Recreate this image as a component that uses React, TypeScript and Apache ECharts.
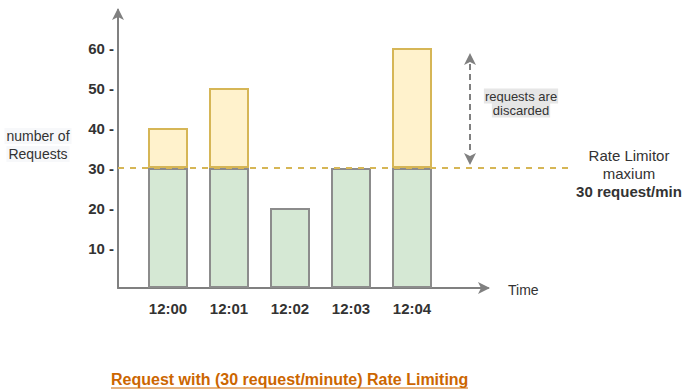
import React, { useEffect, useRef } from "react";
import * as echarts from "echarts";

const categories = ["12:00", "12:01", "12:02", "12:03", "12:04"];
const totalRequests = [40, 50, 20, 30, 60];
const LIMIT = 30;
const allowed = totalRequests.map((v) => Math.min(v, LIMIT));
const discarded = totalRequests.map((v) => (v > LIMIT ? v - LIMIT : null));

const FONT = "'Liberation Sans', Arial, sans-serif";
const GRAY = "#808080";

export default function App() {
  const ref = useRef<HTMLDivElement>(null);
  useEffect(() => {
    if (!ref.current) return;
    const chart = echarts.init(ref.current, undefined, { renderer: "svg" });
    const top = 10;
    const bottom = 101;
    const yMax = 69.5;
    chart.setOption({
      animation: false,
      textStyle: { fontFamily: FONT },
      grid: [
        { left: 118, right: 200, top, bottom },
        { left: 137.5, width: 305, top, bottom },
        { left: 118, right: 120, top, bottom },
      ],
      xAxis: [
        {
          gridIndex: 0,
          type: "value",
          min: 0,
          max: 1,
          axisLine: { show: true, lineStyle: { color: GRAY, width: 2 }, symbol: ["none", "arrow"], symbolSize: [9, 12], symbolOffset: [0, 2] },
          axisTick: { show: false },
          axisLabel: { show: false },
          splitLine: { show: false },
        },
        {
          gridIndex: 1,
          type: "category",
          data: categories,
          axisLine: { show: false },
          axisTick: { show: false },
          axisLabel: { color: "#333", fontWeight: "bold", fontSize: 15, margin: 13, fontFamily: FONT },
        },
        { gridIndex: 2, type: "value", min: 0, max: 1, show: false },
      ],
      yAxis: [
        {
          gridIndex: 0,
          type: "value",
          min: 0,
          max: yMax,
          interval: 10,
          axisLine: { show: true, lineStyle: { color: GRAY, width: 2 }, symbol: ["none", "arrow"], symbolSize: [9, 12], symbolOffset: [0, 2] },
          axisTick: { show: false },
          splitLine: { show: false },
          axisLabel: {
            showMinLabel: false,
            showMaxLabel: false,
            formatter: (v: number) => (v > 0 && v <= 60 ? `${v} -` : ""),
            color: "#333",
            fontWeight: "bold",
            fontSize: 15,
            margin: 4,
            fontFamily: FONT,
          },
        },
        { gridIndex: 1, type: "value", min: 0, max: yMax, show: false },
        { gridIndex: 2, type: "value", min: 0, max: yMax, show: false },
      ],
      series: [
        {
          type: "bar",
          xAxisIndex: 1,
          yAxisIndex: 1,
          stack: "req",
          barWidth: 40,
          data: allowed,
          itemStyle: { color: "#d5e8d4", borderColor: "#8c8c8c", borderWidth: 2 },
          z: 2,
        },
        {
          type: "bar",
          xAxisIndex: 1,
          yAxisIndex: 1,
          stack: "req",
          barWidth: 40,
          data: discarded,
          itemStyle: { color: "#fff2cc", borderColor: "#d6b656", borderWidth: 2 },
          z: 3,
        },
        {
          type: "line",
          xAxisIndex: 2,
          yAxisIndex: 2,
          data: [[0, LIMIT], [1, LIMIT]],
          symbol: "none",
          lineStyle: { color: "#d6b656", width: 2, type: [6, 6] },
          z: 5,
        },
      ],
      graphic: [
        { type: "line", shape: { x1: 470, y1: 64, x2: 470, y2: 154 }, style: { stroke: GRAY, lineWidth: 2, lineDash: [6, 4] }, z: 10 },
        { type: "polygon", shape: { points: [[470, 53], [464, 65], [470, 62], [476, 65]] }, style: { fill: GRAY }, z: 10 },
        { type: "polygon", shape: { points: [[470, 165], [464, 153], [470, 156], [476, 153]] }, style: { fill: GRAY }, z: 10 },
        { type: "text", x: 521, y: 96, style: { text: "requests are", align: "center", verticalAlign: "middle", font: `13px ${FONT}`, fill: "#333", backgroundColor: "#e6e6e6", padding: [1, 1] }, z: 10 },
        { type: "text", x: 521, y: 110, style: { text: "discarded", align: "center", verticalAlign: "middle", font: `13px ${FONT}`, fill: "#333", backgroundColor: "#e6e6e6", padding: [1, 1] }, z: 10 },
        { type: "text", x: 38, y: 136, style: { text: "number of", align: "center", verticalAlign: "middle", font: `14px ${FONT}`, fill: "#333", backgroundColor: "#f7f8fa", padding: [1, 2] }, z: 10 },
        { type: "text", x: 38, y: 154, style: { text: "Requests", align: "center", verticalAlign: "middle", font: `14px ${FONT}`, fill: "#333", backgroundColor: "#f7f8fa", padding: [1, 2] }, z: 10 },
        { type: "text", x: 508, y: 290, style: { text: "Time", align: "left", verticalAlign: "middle", font: `14px ${FONT}`, fill: "#333" }, z: 10 },
        { type: "text", x: 629, y: 155, style: { text: "Rate Limitor", align: "center", verticalAlign: "middle", font: `15px ${FONT}`, fill: "#333" }, z: 10 },
        { type: "text", x: 629, y: 173, style: { text: "maxium", align: "center", verticalAlign: "middle", font: `15px ${FONT}`, fill: "#333" }, z: 10 },
        { type: "text", x: 629, y: 191, style: { text: "30 request/min", align: "center", verticalAlign: "middle", font: `bold 15px ${FONT}`, fill: "#333" }, z: 10 },
        { type: "text", x: 111, y: 379, style: { text: "Request with (30 request/minute) Rate Limiting", align: "left", verticalAlign: "middle", font: `bold 16px ${FONT}`, fill: "#cc6600" }, z: 10 },
        { type: "line", shape: { x1: 111, y1: 388, x2: 468, y2: 388 }, style: { stroke: "#cc6600", lineWidth: 1 }, z: 10 },
      ],
    });
    return () => chart.dispose();
  }, []);
  return <div ref={ref} style={{ position: "fixed", left: 0, top: 0, width: 688, height: 389, background: "#fff" }} />;
}
